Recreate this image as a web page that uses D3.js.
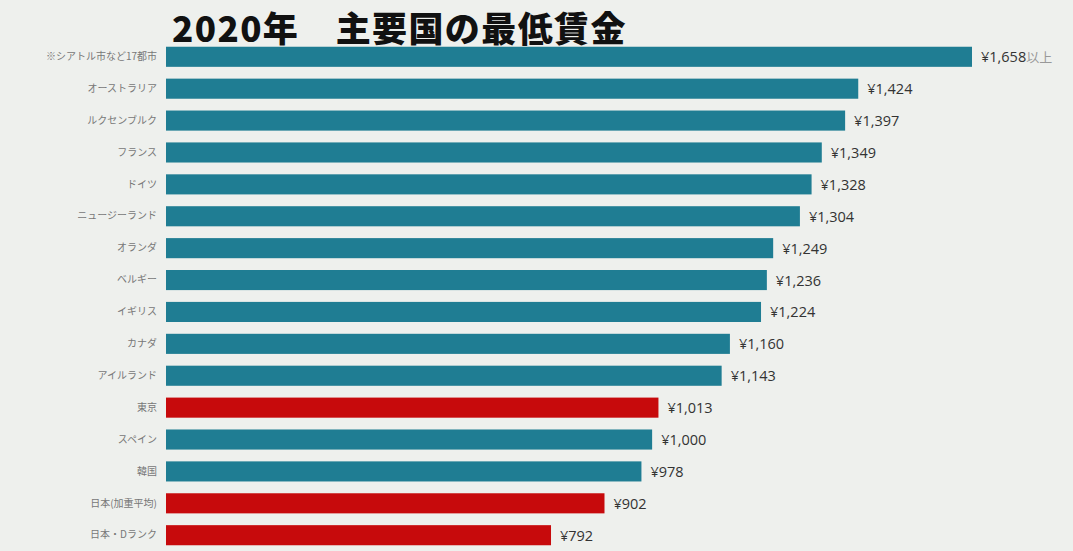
<!DOCTYPE html>
<html><head><meta charset="utf-8">
<script src="https://cdn.jsdelivr.net/npm/d3@7"></script>
<style>
html,body{margin:0;padding:0;background:#eef0ed;}
svg{display:block;}
</style></head>
<body>
<script>
const categories = ["※シアトル市など17都市","オーストラリア","ルクセンブルク","フランス","ドイツ","ニュージーランド","オランダ","ベルギー","イギリス","カナダ","アイルランド","東京","スペイン","韓国","日本(加重平均)","日本・Dランク"];
const values = [1658,1424,1397,1349,1328,1304,1249,1236,1224,1160,1143,1013,1000,978,902,792];
const highlighted = ["東京","日本(加重平均)","日本・Dランク"];
const suffixes = ["以上","","","","","","","","","","","","","","",""];
const title = "2020年　主要国の最低賃金";

const W = 1073, H = 551;
const svg = d3.select("body").append("svg").attr("width", W).attr("height", H);
svg.append("rect").attr("width", W).attr("height", H).attr("fill", "#eef0ed");

const x = d3.scaleLinear().domain([0, 1658]).range([166, 972]);
const y = d3.scaleBand().domain(categories).range([41, 551]).paddingInner(0.37).paddingOuter(0.18);

svg.append("text").attr("x", 172).attr("y", 41.5)
  .attr("font-family", "'Noto Sans CJK JP', sans-serif").attr("font-weight", 900)
  .attr("font-size", 35).attr("letter-spacing", 1.4).attr("fill", "#111").text(title);

const g = svg.append("g");
g.selectAll("rect.bar").data(categories).join("rect")
  .attr("class", "bar")
  .attr("x", x(0))
  .attr("y", d => y(d))
  .attr("width", (d, i) => x(values[i]) - x(0))
  .attr("height", y.bandwidth())
  .attr("fill", d => highlighted.includes(d) ? "#c70a0c" : "#1f7d93");

const axis = d3.axisLeft(y).tickSize(0).tickPadding(9);
const ag = svg.append("g").attr("transform", `translate(${x(0)},0)`).call(axis);
ag.select(".domain").remove();
ag.selectAll("text").attr("font-family", "'Noto Sans CJK JP', sans-serif")
  .attr("font-size", 10).attr("fill", "#777");

const fmt = d3.format(",");
const lab = g.selectAll("text.val").data(categories).join("text")
  .attr("class", "val")
  .attr("x", (d, i) => x(values[i]) + 9)
  .attr("y", d => y(d) + y.bandwidth() / 2)
  .attr("dy", "0.38em")
  .attr("font-family", "'Open Sans', sans-serif")
  .attr("font-size", 14.5).attr("fill", "#333");
lab.append("tspan").text((d, i) => "¥" + fmt(values[i]));
lab.append("tspan").attr("fill", "#999").attr("font-family", "'Noto Sans CJK JP', sans-serif")
  .attr("font-size", 13).text((d, i) => suffixes[i]);
</script>
</body></html>
